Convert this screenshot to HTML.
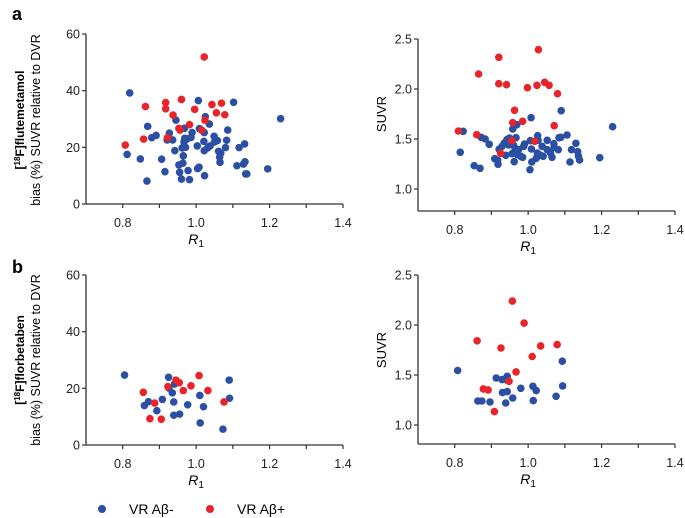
<!DOCTYPE html>
<html><head><meta charset="utf-8"><style>
body{margin:0;background:#fff}
svg{display:block;font-family:"Liberation Sans",Arial,sans-serif}
</style></head><body>
<svg id="chart" width="685" height="518" xmlns="http://www.w3.org/2000/svg">
<text x="12" y="20" font-size="18" font-weight="bold">a</text>
<text x="12" y="273" font-size="18" font-weight="bold">b</text>
<text transform="translate(24,120) rotate(-90)" text-anchor="middle" font-size="12" font-weight="bold">[<tspan dy="-4" font-size="8">18</tspan><tspan dy="4">F]flutemetamol</tspan></text>
<text transform="translate(40,120) rotate(-90)" text-anchor="middle" font-size="12.5">bias (%) SUVR relative to DVR</text>
<text transform="translate(24,360) rotate(-90)" text-anchor="middle" font-size="12" font-weight="bold">[<tspan dy="-4" font-size="8">18</tspan><tspan dy="4">F]florbetaben</tspan></text>
<text transform="translate(40,360) rotate(-90)" text-anchor="middle" font-size="12.5">bias (%) SUVR relative to DVR</text>
<g>
<circle cx="102" cy="509" r="4" fill="#2b50a3"/>
<text x="129" y="514" font-size="14">VR Aβ-</text>
<circle cx="210" cy="509" r="4" fill="#e8232a"/>
<text x="237" y="514" font-size="14">VR Aβ+</text>
</g>
</svg>
<script>
const xTicks=[0.8,1.0,1.2,1.4];
const xMinor=[0.9,1.1,1.3];
const biasTicks=[0,20,40,60];
const suvrTicks=[1.0,1.5,2.0,2.5];
// Panel a-left: bias, flutemetamol
const aBiasNegR1=[0.819,0.812,0.848,0.866,0.868,0.879,0.891,0.906,0.915,0.921,0.927,0.936,0.942,0.945,0.953,0.955,0.96,0.962,0.964,0.965,0.967,0.968,0.969,0.971,0.976,0.978,0.982,0.986,0.989,1.003,1.004,1.006,1.008,1.009,1.021,1.022,1.022,1.023,1.025,1.031,1.036,1.038,1.049,1.05,1.058,1.061,1.064,1.065,1.067,1.08,1.083,1.086,1.102,1.111,1.117,1.129,1.132,1.133,1.135,1.138,1.195,1.23];
const aBiasNegY=[39.2,17.5,15.9,8.1,27.4,23.4,24.2,15.8,11.4,22.6,25,22.6,18.8,29.6,13.8,11.2,8.8,19.8,14.4,17,21.9,26.7,23.2,20,23,11.8,8.6,23.5,25.2,20.5,12.5,36.5,13,26.6,22.1,18.8,25.2,10,30.8,19.8,28.2,20.5,23.9,21.9,22.4,18.6,16.5,14.7,17.9,19.9,22.5,26.1,35.9,13.5,19.9,14.1,21.2,14.9,10.6,10.6,12.4,30.1];
const aBiasPosR1=[0.807,0.862,0.857,0.917,0.917,0.922,0.937,0.96,0.953,0.956,0.982,0.996,1.015,1.022,1.024,1.043,1.055,1.069,1.078];
const aBiasPosY=[20.8,34.4,22.9,35.8,33.6,23.4,31.4,36.9,26.7,26.1,28,33.4,26.1,51.9,29.6,35.1,32.2,35.6,31.5];
// Panel a-right: SUVR, flutemetamol
const aSuvrNegR1=[0.815,0.823,0.853,0.869,0.872,0.883,0.894,0.909,0.917,0.918,0.921,0.929,0.935,0.939,0.942,0.947,0.949,0.956,0.958,0.96,0.962,0.964,0.967,0.969,0.971,0.974,0.98,0.985,0.988,0.99,1.005,1.006,1.008,1.01,1.009,1.022,1.025,1.026,1.027,1.034,1.038,1.041,1.052,1.052,1.061,1.065,1.07,1.071,1.082,1.084,1.089,1.09,1.106,1.114,1.118,1.13,1.135,1.137,1.14,1.195,1.23];
const aSuvrNegY=[1.367,1.577,1.233,1.207,1.517,1.5,1.447,1.303,1.287,1.247,1.397,1.427,1.46,1.337,1.493,1.44,1.51,1.353,1.6,1.44,1.273,1.41,1.513,1.643,1.343,1.393,1.327,1.317,1.427,1.45,1.193,1.483,1.713,1.27,1.4,1.307,1.36,1.533,1.487,1.337,1.427,1.327,1.487,1.393,1.36,1.317,1.453,1.417,1.393,1.513,1.517,1.783,1.54,1.27,1.393,1.457,1.373,1.327,1.29,1.313,1.623];
const aSuvrPosR1=[0.81,0.86,0.865,0.92,0.92,0.925,0.941,0.956,0.958,0.963,0.985,0.998,1.018,1.024,1.028,1.045,1.057,1.071,1.08];
const aSuvrPosY=[1.58,1.543,2.15,2.317,2.053,1.357,2.043,1.483,1.663,1.787,1.677,2.013,1.477,2.037,2.393,2.067,2.037,1.633,1.953];
// Panel b-left: bias, florbetaben
const bBiasNegR1=[0.805,0.859,0.87,0.893,0.908,0.925,0.926,0.935,0.939,0.939,0.941,0.955,0.977,1.01,1.011,1.02,1.073,1.09,1.091];
const bBiasNegY=[24.7,13.9,15.3,12.1,16.1,23.9,20.1,18.4,15.2,10.5,21.5,10.9,14.2,17.5,7.8,13.5,5.6,22.9,16.5];
const bBiasPosR1=[0.856,0.874,0.887,0.905,0.923,0.945,0.954,0.965,0.986,1.008,1.032,1.076];
const bBiasPosY=[18.6,9.3,14.8,9.1,20.6,22.9,22,19.2,20.9,24.5,19.2,15.2];
// Panel b-right: SUVR, florbetaben
const bSuvrNegR1=[0.808,0.863,0.874,0.896,0.913,0.929,0.93,0.939,0.943,0.943,0.943,0.958,0.98,1.013,1.014,1.022,1.076,1.093,1.094];
const bSuvrNegY=[1.545,1.24,1.24,1.23,1.47,1.454,1.324,1.22,1.487,1.334,1.447,1.27,1.367,1.387,1.244,1.344,1.287,1.638,1.391];
const bSuvrPosR1=[0.861,0.878,0.891,0.908,0.926,0.948,0.957,0.967,0.989,1.011,1.034,1.079];
const bSuvrPosY=[1.842,1.361,1.351,1.134,1.77,1.437,2.239,1.531,2.019,1.685,1.791,1.804];

const NS="http://www.w3.org/2000/svg";
const svg=document.getElementById('chart');
function mk(tag,attrs,parent){const e=document.createElementNS(NS,tag);for(const k in attrs)e.setAttribute(k,attrs[k]);(parent||svg).appendChild(e);return e;}

function panel(id,x0,x1,yTop,yBot,vTop,vBot,axisBottom,yTicks,fmt,yTitle,negX,negY,posX,posY){
  const g=mk('g',{});
  
  
  const sx=v=>x0+(v-0.7)/(1.4-0.7)*(x1-x0);
  const sy=v=>yBot+(v-vBot)/(vTop-vBot)*(yTop-yBot);
  const xa=mk('line',{x1:x0,x2:x1,y1:axisBottom,y2:axisBottom,stroke:'#333','stroke-width':1.3},g);
  
  
  const ya=mk('line',{x1:x0,x2:x0,y1:sy(yTicks[yTicks.length-1]),y2:axisBottom,stroke:'#333','stroke-width':1.3},g);
  
  
  xTicks.forEach(t=>{
    mk('line',{x1:sx(t),x2:sx(t),y1:axisBottom,y2:axisBottom+4,stroke:'#333','stroke-width':1.2},g);
    const tx=mk('text',{x:sx(t),y:axisBottom+23,'text-anchor':'middle','font-size':12.5,fill:'#222'},g);
    tx.textContent=t.toFixed(1);
    
    
  });
  xMinor.forEach(t=>mk('line',{x1:sx(t),x2:sx(t),y1:axisBottom,y2:axisBottom+4,stroke:'#333','stroke-width':1.2},g));
  yTicks.forEach(t=>{
    mk('line',{x1:x0-4,x2:x0,y1:sy(t),y2:sy(t),stroke:'#333','stroke-width':1.2},g);
    const tx=mk('text',{x:x0-6,y:sy(t)+4.5,'text-anchor':'end','font-size':12.5,fill:'#222'},g);
    tx.textContent=fmt(t);
    
    
  });
  const xt=mk('text',{x:(sx(1.0)),y:axisBottom+40,'text-anchor':'middle','font-size':14,'font-style':'italic'},g);
  xt.innerHTML='R<tspan font-size="10" font-style="normal" dy="3">1</tspan>';
  
  
  if(yTitle){
    const yt=mk('text',{transform:`translate(${x0-32},${(sy(yTicks[0])+sy(yTicks[yTicks.length-1]))/2}) rotate(-90)`,'text-anchor':'middle','font-size':13},g);
    yt.textContent=yTitle;
    
    
  }
  negX.forEach((v,i)=>{
    const c=mk('circle',{cx:sx(v),cy:sy(negY[i]),r:3.8,fill:'#2b50a3'},g);
    
    
  });
  posX.forEach((v,i)=>{
    const c=mk('circle',{cx:sx(v),cy:sy(posY[i]),r:3.8,fill:'#e8232a'},g);
    
    
  });
}
const f0=t=>String(t), f1=t=>t.toFixed(1);
panel('panel-a-bias',86,343,34,204,60,0,204,biasTicks,f0,null,aBiasNegR1,aBiasNegY,aBiasPosR1,aBiasPosY);
panel('panel-a-suvr',418,675,39,189,2.5,1.0,211,suvrTicks,f1,'SUVR',aSuvrNegR1,aSuvrNegY,aSuvrPosR1,aSuvrPosY);
panel('panel-b-bias',86,343,275,445,60,0,445,biasTicks,f0,null,bBiasNegR1,bBiasNegY,bBiasPosR1,bBiasPosY);
panel('panel-b-suvr',418,675,275,425,2.5,1.0,444,suvrTicks,f1,'SUVR',bSuvrNegR1,bSuvrNegY,bSuvrPosR1,bSuvrPosY);
</script>
</body></html>
